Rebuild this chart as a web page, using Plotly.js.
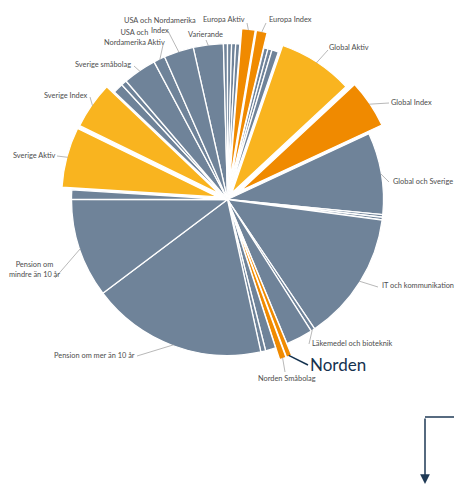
<!DOCTYPE html>
<html><head><meta charset="utf-8">
<script src="https://cdn.plot.ly/plotly-3.0.1.min.js"></script>
<style>html,body{margin:0;padding:0;background:#fff;overflow:hidden}</style>
</head><body><div id="chart" style="width:454px;height:485px"></div>
<script>
// ---- data (clockwise from the start of "Varierande") ----
const categories = ['Varierande','Övrigt 1','Övrigt 2','Övrigt 3','Övrigt 4','Europa Aktiv','Europa Index','Övrigt 5','Övrigt 6','Övrigt 7','Global Aktiv','Global Index','Global och Sverige','Övrigt 8','Övrigt 9','IT och kommunikation','Läkemedel och bioteknik','Övrigt 10','Norden','Norden Småbolag','Övrigt 11','Övrigt 12','Pension om mer än 10 år','Pension om mindre än 10 år','Övrigt 13','Sverige Aktiv','Sverige Index','Övrigt 14','Övrigt 15','Sverige småbolag','USA och Nordamerika Aktiv','USA och Nordamerika Index'];
const shares = [3.11,0.42,0.42,0.42,0.42,1.39,1.11,0.42,0.42,0.69,7.78,5.00,8.47,0.28,0.28,13.47,0.42,2.78,0.56,0.69,1.06,0.50,18.17,10.28,0.97,6.25,4.86,1.06,0.58,3.47,1.19,3.08];
const groups = ['g','g','g','g','g','o','o','g','g','g','y','o','g','g','g','g','g','g','o','o','g','g','g','g','g','y','y','g','g','g','g','g'];
const pulled = {'Europa Aktiv':0.1,'Europa Index':0.1,'Global Aktiv':0.05,'Global Index':0.1,'Sverige Aktiv':0.065,'Sverige Index':0.06,'Norden':0.08,'Norden Småbolag':0.08};
const labelTexts = {
  'Europa Aktiv':'Europa Aktiv','Europa Index':'Europa Index','Varierande':'Varierande',
  'USA och Nordamerika Index':'USA och Nordamerika<br>Index','USA och Nordamerika Aktiv':'USA och<br>Nordamerika Aktiv',
  'Sverige småbolag':'Sverige småbolag','Sverige Index':'Sverige Index','Sverige Aktiv':'Sverige Aktiv',
  'Pension om mindre än 10 år':'Pension om<br>mindre än 10 år','Pension om mer än 10 år':'Pension om mer än 10 år',
  'Global Aktiv':'Global Aktiv','Global Index':'Global Index','Global och Sverige':'Global och Sverige',
  'IT och kommunikation':'IT och kommunikation','Läkemedel och bioteknik':'Läkemedel och bioteknik',
  'Norden':'Norden','Norden Småbolag':'Norden Småbolag'
};

// ---- layout / style ----
const W = 454, H = 485, CX = 227.5, CY = 199.5, R = 156, ROT = 347.3;
const COL = {g:'#6f8399', y:'#f9b41f', o:'#f08a00'};
const pulls = categories.map(c => pulled[c] || 0);
const maxPull = Math.max(...pulls);
const box = 2 * R * (1 + maxPull);
const domain = {x:[(CX-box/2)/W,(CX+box/2)/W], y:[1-(CY+box/2)/H, 1-(CY-box/2)/H]};

// label placement: [category, textX, textY, leaderStartX, leaderStartY, anchor]
const place = [
  ['Europa Aktiv',224,20,247,23],
  ['Europa Index',290,20,266,23],
  ['Varierande',205,35,206,40],
  ['USA och Nordamerika Index',160,25,168,31],
  ['USA och Nordamerika Aktiv',134,38,163,45],
  ['Sverige småbolag',103,65,134,66],
  ['Sverige Index',66,96,90,97],
  ['Sverige Aktiv',34,155,57,156],
  ['Pension om mindre än 10 år',34,269,55,278],
  ['Pension om mer än 10 år',94,355,137,356],
  ['Global Aktiv',349,48,328,50],
  ['Global Index',411,102,389,103],
  ['Global och Sverige',391,181,389,182,'left'],
  ['IT och kommunikation',380,285,378,287,'left'],
  ['Läkemedel och bioteknik',310,343,309,344,'left'],
  ['Norden',338,364,308,365],
  ['Norden Småbolag',287,378,285,372]
];

// mid angle of every slice from the data
const total = shares.reduce((a,b)=>a+b,0);
const midAngle = {}; let cum = 0;
shares.forEach((v,i)=>{ midAngle[categories[i]] = ROT + (cum + v/2)/total*360; cum += v; });

const px = x => x / W, py = y => 1 - y / H;
const shapes = [], annotations = [];
place.forEach(([cat, tx, ty, lx, ly, anc]) => {
  const a = midAngle[cat] * Math.PI / 180;
  const rr = R * (1 + (pulled[cat] || 0)) - 1;
  const tipX = CX + rr * Math.sin(a), tipY = CY - rr * Math.cos(a);
  const big = cat === 'Norden';
  shapes.push({type:'line', xref:'paper', yref:'paper', x0:px(lx), y0:py(ly), x1:px(tipX), y1:py(tipY),
    line:{color: big ? '#15324f' : '#a6a6a6', width: big ? 1.5 : 0.8}});
  annotations.push({xref:'paper', yref:'paper', x:px(tx), y:py(ty), text:labelTexts[cat], showarrow:false,
    xanchor: anc || 'center', yanchor:'middle', align:'center',
    font: big ? {family:'Lato, sans-serif', size:17, color:'#15324f'} : {family:'Lato, sans-serif', size:7.4, color:'#4d4d4d'}});
});
// decorative connector at bottom right
shapes.push({type:'line', xref:'paper', yref:'paper', x0:px(454), y0:py(417), x1:px(425), y1:py(417), line:{color:'#1f3a56', width:1.5}});
annotations.push({xref:'paper', yref:'paper', x:px(425), y:py(484), ax:0, ay:-67, text:'', showarrow:true,
  arrowhead:2, arrowsize:1.3, arrowwidth:1.5, arrowcolor:'#1f3a56'});

Plotly.newPlot('chart', [{
  type:'pie', labels:categories, values:shares, sort:false, direction:'clockwise', rotation:ROT,
  pull:pulls, marker:{colors:groups.map(g=>COL[g]), line:{color:'#ffffff', width:1.3}},
  textinfo:'none', hoverinfo:'label+percent', domain:domain, showlegend:false
}], {
  width:W, height:H, margin:{l:0,r:0,t:0,b:0}, paper_bgcolor:'#ffffff', plot_bgcolor:'#ffffff',
  showlegend:false, shapes:shapes, annotations:annotations
}, {displayModeBar:false, staticPlot:true});
</script></body></html>
